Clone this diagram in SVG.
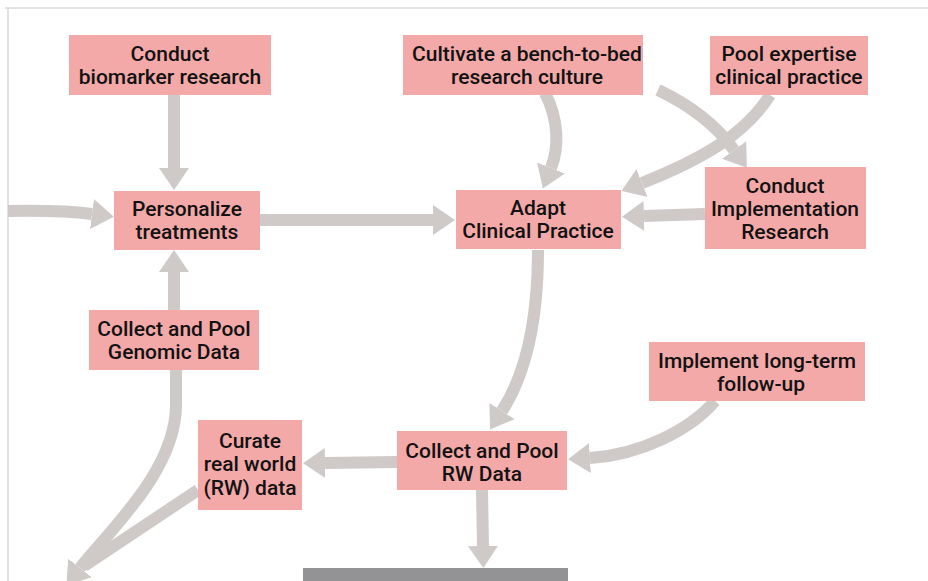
<svg xmlns="http://www.w3.org/2000/svg" width="928" height="581" viewBox="0 0 928 581">
  <style>
    .box { fill: #f4a9a9; }
    .lbl { font-family: Roboto, "Liberation Sans", sans-serif; font-weight: 500; font-size: 21px; fill: #121212; text-anchor: middle; }
    .link { fill: none; stroke: #cfc9c7; stroke-width: 12; }
    .frame { stroke: #d9d9d9; stroke-width: 1.5; fill: none; }
  </style>
  <defs>
    <marker id="head" viewBox="0 0 22 30" refX="0" refY="15" markerWidth="22" markerHeight="30" markerUnits="userSpaceOnUse" orient="auto">
      <path d="M0,0 L22,15 L0,30 Z" fill="#cfc9c7"/>
    </marker>
  </defs>

  <rect x="0" y="0" width="928" height="581" fill="#ffffff"/>
  <path class="frame" d="M5,8 H928 M8,8 V581"/>

  <!-- connectors -->
  <g id="connectors">
    <path class="link" d="M174,95 L174,168" marker-end="url(#head)"/>
    <path class="link" d="M8,211 Q60,210 92,214" marker-end="url(#head)"/>
    <path class="link" d="M174,310 L174,272" marker-end="url(#head)"/>
    <path class="link" d="M260,220 L433,220" marker-end="url(#head)"/>
    <path class="link" d="M545,93 C559,120 559,148 551,168" marker-end="url(#head)"/>
    <path class="link" d="M658,90 C692,106 716,125 734,150" marker-end="url(#head)"/>
    <path class="link" d="M770,95 C745,135 700,160 642,183" marker-end="url(#head)"/>
    <path class="link" d="M705,214 L644,216" marker-end="url(#head)"/>
    <path class="link" d="M538,250 C538,330 522,380 502,411" marker-end="url(#head)"/>
    <path class="link" d="M715,401 C690,430 640,455 590,458" marker-end="url(#head)"/>
    <path class="link" d="M397,462 L325,463" marker-end="url(#head)"/>
    <path class="link" d="M482,490 L483,546" marker-end="url(#head)"/>
    <path class="link" d="M198,490 L84,566"/>
    <path class="link" d="M176,370 L176,405 C176,470 110,530 80,568" marker-end="url(#head)"/>
  </g>

  <g id="node-biomarker">
    <rect class="box" x="69" y="35" width="202" height="60"/>
    <text class="lbl" x="170" y="61">Conduct</text>
    <text class="lbl" x="170" y="84">biomarker research</text>
  </g>
  <g id="node-culture">
    <rect class="box" x="403" y="35" width="240" height="60"/>
    <text class="lbl" x="527" y="61">Cultivate a bench-to-bed</text>
    <text class="lbl" x="527" y="84">research culture</text>
  </g>
  <g id="node-expertise">
    <rect class="box" x="710" y="36" width="158" height="59"/>
    <text class="lbl" x="789" y="61">Pool expertise</text>
    <text class="lbl" x="789" y="84">clinical practice</text>
  </g>
  <g id="node-personalize">
    <rect class="box" x="114" y="191" width="146" height="59"/>
    <text class="lbl" x="187" y="216">Personalize</text>
    <text class="lbl" x="187" y="239">treatments</text>
  </g>
  <g id="node-adapt">
    <rect class="box" x="456" y="190" width="165" height="59"/>
    <text class="lbl" x="538" y="215">Adapt</text>
    <text class="lbl" x="538" y="238">Clinical Practice</text>
  </g>
  <g id="node-implementation">
    <rect class="box" x="705" y="167" width="161" height="82"/>
    <text class="lbl" x="785" y="193">Conduct</text>
    <text class="lbl" x="785" y="216">Implementation</text>
    <text class="lbl" x="785" y="239">Research</text>
  </g>
  <g id="node-genomic">
    <rect class="box" x="89" y="310" width="170" height="60"/>
    <text class="lbl" x="174" y="336">Collect and Pool</text>
    <text class="lbl" x="174" y="359">Genomic Data</text>
  </g>
  <g id="node-followup">
    <rect class="box" x="649" y="342" width="216" height="59"/>
    <text class="lbl" x="757" y="368">Implement long-term</text>
    <text class="lbl" x="761" y="391">follow-up</text>
  </g>
  <g id="node-curate">
    <rect class="box" x="198" y="420" width="104" height="90"/>
    <text class="lbl" x="250" y="448">Curate</text>
    <text class="lbl" x="250" y="471">real world</text>
    <text class="lbl" x="250" y="495">(RW) data</text>
  </g>
  <g id="node-rwdata">
    <rect class="box" x="397" y="431" width="170" height="59"/>
    <text class="lbl" x="482" y="458">Collect and Pool</text>
    <text class="lbl" x="482" y="481">RW Data</text>
  </g>
  <g id="bar">
    <rect x="303" y="568" width="265" height="13" fill="#939396"/>
  </g>
</svg>
